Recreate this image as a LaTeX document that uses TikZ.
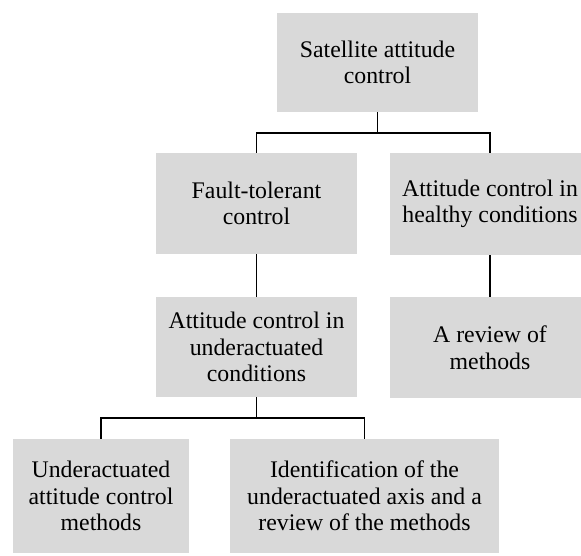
\documentclass[tikz,border=0pt]{standalone}
\usepackage{fontspec}
\setmainfont{Liberation Serif}
\begin{document}
\begin{tikzpicture}[x=1pt,y=1pt,
  topic/.style={fill=boxgray, draw=none, inner sep=0pt, align=center,
    font=\fontsize{23.8}{26.5}\selectfont},
  link/.style={draw=black, line width=1.8pt}]
\definecolor{boxgray}{HTML}{D9D9D9}
\clip (0,0) rectangle (581,-555);
\fill[white] (0,0) rectangle (581,-555);

% boxes
\node[topic, minimum width=201pt, minimum height=99pt]  (sat)    at (377.5,-62.5) {Satellite attitude\\control};
\node[topic, minimum width=201pt, minimum height=101pt] (fault)  at (256.5,-203.5) {Fault-tolerant\\control};
\node[topic, minimum width=200pt, minimum height=102pt] (health) at (490,-204) {Attitude control in\\healthy conditions};
\node[topic, minimum width=201pt, minimum height=100pt] (under)  at (256.5,-347) {Attitude control in\\underactuated\\conditions};
\node[topic, minimum width=200pt, minimum height=101pt] (review) at (490,-347.5) {A review of\\methods};
\node[topic, minimum width=176pt, minimum height=114pt] (uam)    at (101,-496) {Underactuated\\attitude control\\methods};
\node[topic, minimum width=269pt, minimum height=114pt] (ident)  at (364.5,-496) {Identification of the\\underactuated axis and a\\review of the methods};

% junctions of the tree connectors
\coordinate (j1) at (377.5,-133);
\coordinate (j2) at (256.5,-418);

% connectors
\draw[link] (sat.south) -- (j1) -| (fault.north);
\draw[link] (j1) -| (health.north);
\draw[link] (fault.south) -- (under.north);
\draw[link] (health.south) -- (review.north);
\draw[link] (under.south) -- (j2) -| (uam.north);
\draw[link] (j2) -| (ident.north);
\end{tikzpicture}
\end{document}
